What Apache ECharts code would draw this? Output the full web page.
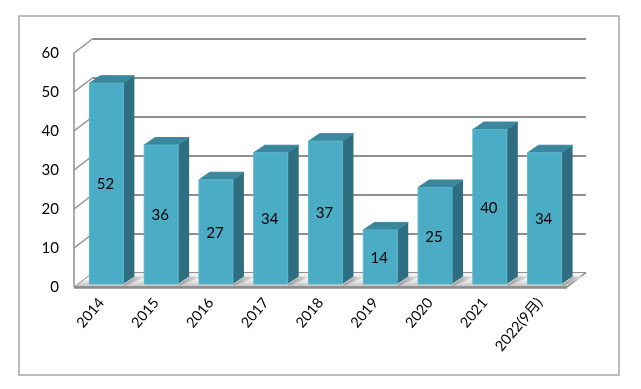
<!DOCTYPE html>
<html>
<head>
<meta charset="utf-8">
<style>html,body{margin:0;padding:0;background:#fff}#c{width:641px;height:389px}</style>
<script src="https://cdn.jsdelivr.net/npm/echarts@6/dist/echarts.min.js"></script>
</head>
<body>
<div id="c"></div>
<script>
var categories = ['2014','2015','2016','2017','2018','2019','2020','2021','2022(9月)'];
var values = [52,36,27,34,37,14,25,40,34];
var axisTicks = [0,10,20,30,40,50,60];

var FONT = 'Lato, "Noto Sans CJK SC", sans-serif';
var WALL = [19, -14.5];      // depth of the chart box
var BAR_DEPTH = [11, -7.5];  // depth of a bar
var BAR_SHIFT = [5, -3];     // bar front face vs. front plane
var BAR_W = 0.62;            // share of a band
var BAR_PERSP = 0.99;        // bars sit slightly deeper than the front plane

function poly(pts, style, z2) {
  return {type:'polygon', shape:{points:pts}, style:style, z2:z2||0, silent:true};
}
function seg(a, b, stroke, w, z2) {
  return {type:'line', shape:{x1:a[0],y1:a[1],x2:b[0],y2:b[1]},
    style:{stroke:stroke, lineWidth:w}, z2:z2||0, silent:true};
}
var GRID = '#8f8f8f';

function renderWall(params, api) {
  var v = api.value(1);
  var l = api.coord([0, v]);
  var x0 = params.coordSys.x, x1 = x0 + params.coordSys.width;
  var kids = [];
  var a = [x0, l[1]], b = [x0 + WALL[0], l[1] + WALL[1]];
  if (v === 0) {
    var r = [x1, l[1]], s = [x1 + WALL[0], l[1] + WALL[1]];
    kids.push(poly([a, b, s, r], {
      fill:{type:'linear',x:0,y:0,x2:0,y2:1,colorStops:[{offset:0,color:'#ededed'},{offset:0.45,color:'#f7f7f7'},{offset:1,color:'#b9b9b9'}]},
      stroke:GRID, lineWidth:1
    }));
    kids.push(seg([x0, l[1] + 0.5], [x1, l[1] + 0.5], '#8c8c8c', 2.4, 2));
    kids.push(seg(r, s, GRID, 1.5, 1));
    kids.push(seg([x0, l[1]], [x0, api.coord([0, 60])[1]], GRID, 1.5, 2));
  } else {
    kids.push(seg(a, b, GRID, 1.5, 1));
  }
  return {type:'group', children:kids};
}

function renderBar(params, api) {
  var v = api.value(1);
  var top = api.coord([api.value(0), v]);
  var base = api.coord([api.value(0), 0]);
  var w = api.size([1, 0])[0] * BAR_W;
  var xl = top[0] - w / 2 + BAR_SHIFT[0], xr = xl + w;
  var yb = base[1] + BAR_SHIFT[1], yt = yb - (base[1] - top[1]) * BAR_PERSP;
  var dx = BAR_DEPTH[0], dy = BAR_DEPTH[1];
  var shadow = poly([[xr, yb+1.5],[xr+dx, yb+dy],[xr+dx+13, yb+dy],[xr+2, yb+1.5]], {
    fill:{type:'linear',x:0,y:0,x2:1,y2:0,colorStops:[{offset:0,color:'#8f8f8f'},{offset:1,color:'#f2f2f2'}]}
  });
  return {type:'group', children:[
    shadow,
    poly([[xr,yt],[xr+dx,yt+dy],[xr+dx,yb+dy],[xr,yb]], {fill:'#2f6e80'}, 1),
    poly([[xl,yt],[xl+dx,yt+dy],[xr+dx,yt+dy],[xr,yt]], {fill:'#3a879e', lineJoin:'round', stroke:'#3a879e', lineWidth:1}, 1),
    {type:'rect', shape:{x:xl,y:yt,width:w,height:yb-yt}, silent:true, z2:2,
      style:{fill:'#4bacc6', stroke:'#5bb5cc', lineWidth:1}},
    {type:'text', z2:3, silent:true, style:{
      x:xl + w/2 - 1, y:(yt+yb)/2 + 1, text:String(v), fill:'#000',
      font:'15px ' + FONT, align:'center', verticalAlign:'middle'}}
  ]};
}

var chart = echarts.init(document.getElementById('c'), null, {renderer:'canvas'});
chart.setOption({
  animation:false,
  backgroundColor:'#fff',
  graphic:[{type:'rect', silent:true, z:-1,
    shape:{x:19,y:16,width:600,height:359},
    style:{fill:'#fff', stroke:'#a6a6a6', lineWidth:1.5}}],
  grid:[
    {left:74, top:53, width:493, height:234},   // front plane
    {left:93, top:38.5, width:493, height:234}  // back wall
  ],
  xAxis:[
    {gridIndex:0, type:'category', data:categories,
      axisLine:{show:false},
      axisTick:{show:false},
      axisLabel:{interval:0, rotate:50, margin:13, color:'#000', fontFamily:FONT, fontSize:14.5}},
    {gridIndex:1, type:'category', data:categories, show:false}
  ],
  yAxis:[
    {gridIndex:0, type:'value', min:0, max:60, interval:10,
      axisLine:{show:false},
      axisTick:{show:false}, splitLine:{show:false},
      axisLabel:{margin:15, color:'#000', fontFamily:FONT, fontSize:15, padding:[4,0,0,0]}},
    {gridIndex:1, type:'value', min:0, max:60, interval:10,
      axisLine:{show:false},
      axisTick:{show:false}, axisLabel:{show:false},
      splitLine:{show:true, lineStyle:{color:GRID, width:2}}}
  ],
  series:[
    {type:'custom', xAxisIndex:0, yAxisIndex:0, z:1, data:axisTicks.map(function(t){return [0,t];}),
      encode:{x:0,y:1}, renderItem:renderWall, clip:false, silent:true},
    {type:'custom', xAxisIndex:0, yAxisIndex:0, z:3,
      data:values.map(function(v,i){return [i,v];}),
      encode:{x:0,y:1}, renderItem:renderBar, clip:false, silent:true}
  ]
});
</script>
</body>
</html>
